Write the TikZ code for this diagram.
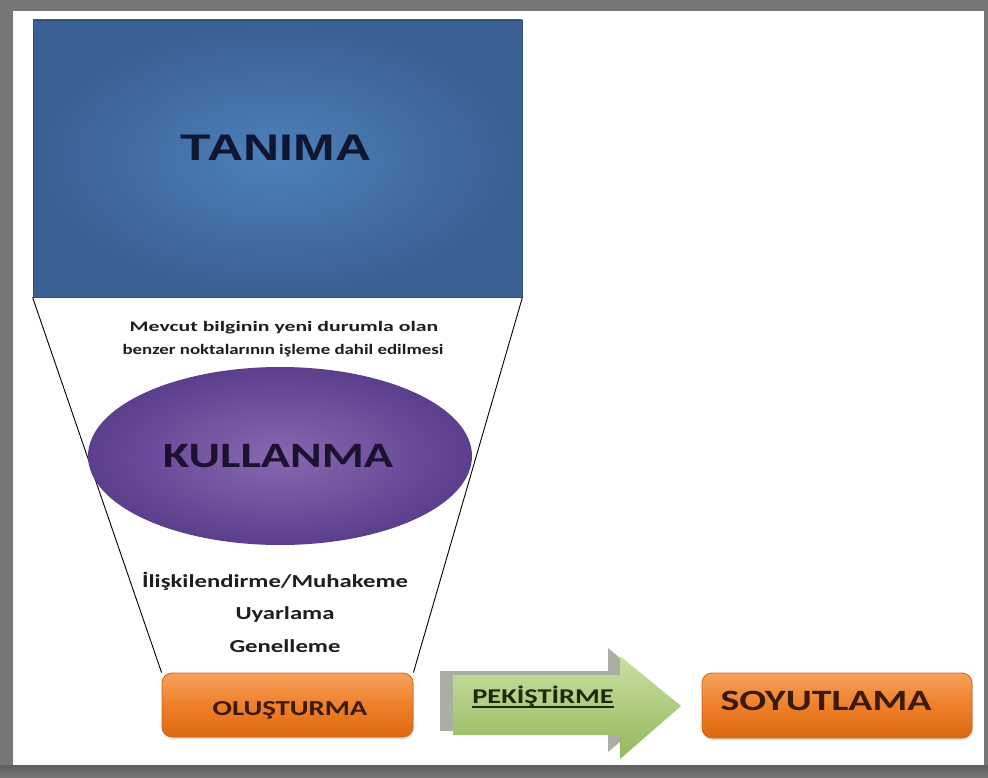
\documentclass[tikz,border=0pt]{standalone}
\usepackage{fontspec}
\setmainfont{Carlito}
\newfontfamily\arialfont{Liberation Sans}
\usetikzlibrary{shadows}
\definecolor{framegray}{HTML}{767676}
\definecolor{panelwhite}{HTML}{FFFFFF}
\definecolor{blueouter}{HTML}{3A5F92}
\definecolor{blueinner}{HTML}{4C80BA}
\definecolor{blueedge}{HTML}{2F4E7A}
\definecolor{purpleouter}{HTML}{5B3F8C}
\definecolor{purpleinner}{HTML}{8767B0}
\definecolor{orangetop}{HTML}{F5A25C}
\definecolor{orangemid}{HTML}{EF7F2A}
\definecolor{orangebot}{HTML}{DA680E}
\definecolor{orangeedge}{HTML}{CC641C}
\definecolor{greentop}{HTML}{CADFA2}
\definecolor{greenbot}{HTML}{93B85B}
\definecolor{arrowshadow}{HTML}{ABAFA2}
\definecolor{navytext}{HTML}{0E1630}
\definecolor{purpletext}{HTML}{1A1230}
\definecolor{browntext}{HTML}{3A1A08}
\definecolor{greentext}{HTML}{1C2A0C}
\definecolor{bodytext}{HTML}{1E1E1E}
\newcommand{\stretchx}[2][1.35]{\scalebox{#1}[1]{#2}}
\tikzset{
  orangebox/.style={rounded corners=10pt, draw=orangeedge, line width=0.8pt,
    top color=orangetop, bottom color=orangebot, middle color=orangemid,
    drop shadow={opacity=0.25, shadow xshift=1pt, shadow yshift=-2pt},
    inner sep=0pt},
  txt/.style={inner sep=0pt, anchor=base},
  funnel/.style={draw=black, line width=0.9pt}
}
\begin{document}
\begin{tikzpicture}[x=1pt,y=-1pt]
\useasboundingbox (0,0) rectangle (988,778);
\fill[framegray] (0,0) rectangle (988,778);
\fill[panelwhite] (13,11) rectangle (984,765);
\shade[top color=framegray!80!black, bottom color=framegray] (0,765) rectangle (988,778);
% TANIMA box
\node[rectangle, minimum width=489pt, minimum height=277pt, inner sep=0pt,
  inner color=blueinner, outer color=blueouter, draw=blueedge, line width=0.8pt]
  (tanima) at (277.5,158.5) {};
% OLUSTURMA box
\node[orangebox, minimum width=251pt, minimum height=64pt] (olus) at (287.5,705) {};
% funnel lines
\draw[funnel] (tanima.south west) -- (olus.north west);
\draw[funnel] (tanima.south east) -- (olus.north east);
% ellipse
\path[inner color=purpleinner, outer color=purpleouter]
  (280,456) coordinate (kc) ellipse [x radius=192, y radius=89];
% SOYUTLAMA box
\node[orangebox, minimum width=270pt, minimum height=65pt] (soyut) at (837,705.5) {};
% arrow
\fill[arrowshadow] (440,671) -- (608,671) -- (608,648) -- (670,700) -- (608,752) -- (608,731) -- (440,731) -- cycle;
\shade[top color=greentop, bottom color=greenbot]
  (453,675) -- (620,675) -- (620,656) -- (681,706) -- (620,759) -- (620,735) -- (453,735) -- cycle;
% texts
\node[txt, text=navytext, font=\arialfont\bfseries\fontsize{37}{40}\selectfont] (tanimatxt) at (276,161) {\stretchx{TANIMA}};
\node[txt, text=bodytext, font=\bfseries\fontsize{14.5}{16}\selectfont] (m1) at (284,331) {\stretchx[1.5]{Mevcut bilginin yeni durumla olan}};
\node[txt, text=bodytext, font=\bfseries\fontsize{14.5}{16}\selectfont] (m2) at (283,354) {\stretchx[1.3]{benzer noktalarının işleme dahil edilmesi}};
\node[txt, text=purpletext, font=\bfseries\fontsize{35.7}{40}\selectfont] (kultxt) at (278,467) {\stretchx{KULLANMA}};
\node[txt, text=bodytext, font=\bfseries\fontsize{18.3}{20}\selectfont] (l1) at (275,587) {\stretchx{İlişkilendirme/Muhakeme}};
\node[txt, text=bodytext, font=\bfseries\fontsize{18.3}{20}\selectfont] (l2) at (285,619) {\stretchx{Uyarlama}};
\node[txt, text=bodytext, font=\bfseries\fontsize{18.3}{20}\selectfont] (l3) at (285,652) {\stretchx{Genelleme}};
\node[txt, text=browntext, font=\bfseries\fontsize{21.3}{24}\selectfont] (olustxt) at (290,715) {\stretchx{OLUŞTURMA}};
\node[txt, text=browntext, font=\bfseries\fontsize{29.5}{32}\selectfont] (soyuttxt) at (826,710) {\stretchx{SOYUTLAMA}};
\node[txt, text=greentext, font=\bfseries\fontsize{21}{24}\selectfont] (pek) at (543,703) {\stretchx{PEKİŞTİRME}};
\draw[greentext, line width=1.6pt] ([yshift=-4pt]pek.base west) -- ([yshift=-4pt]pek.base east);
\end{tikzpicture}
\end{document}
